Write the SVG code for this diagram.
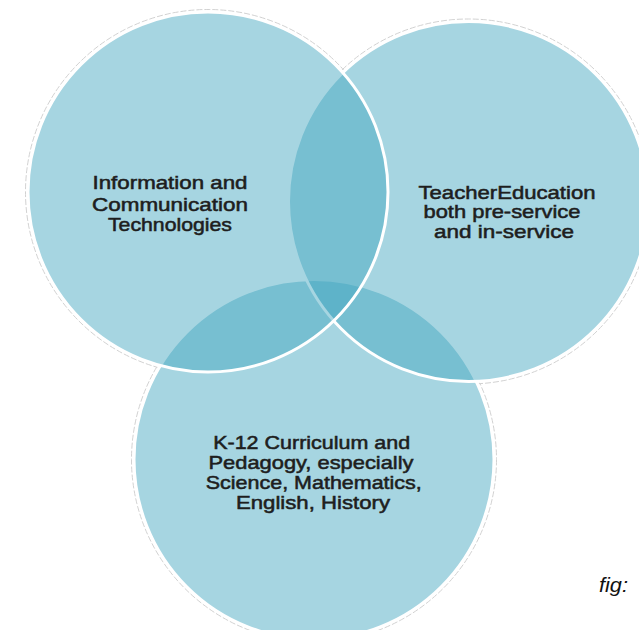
<svg xmlns="http://www.w3.org/2000/svg" width="639" height="630" viewBox="0 0 639 630">
  <style>
    .halo { fill: none; stroke: #d2d2d2; stroke-width: 1; stroke-dasharray: 6 2; }
    .base { fill: #ffffff; }
    .disc { fill: #42a5bf; fill-opacity: 0.47; stroke: #ffffff; stroke-width: 3; }
    .lbl { font-family: "Liberation Sans", Arial, sans-serif; font-size: 19px; font-weight: normal; fill: #1e1e1e; stroke: #1e1e1e; stroke-width: 0.55; text-anchor: middle; }
    .cap { font-family: "Liberation Sans", Arial, sans-serif; font-size: 21px; font-style: italic; fill: #111111; }
  </style>
  <rect width="639" height="630" fill="#ffffff"/>
  <g id="outlines">
    <circle class="halo" cx="314" cy="459.5" r="182.5"/>
    <circle class="halo" cx="468.5" cy="201.5" r="182.5"/>
    <circle class="halo" cx="208" cy="192" r="182.5"/>
    <circle class="base" cx="314" cy="459.5" r="181.5"/>
    <circle class="base" cx="468.5" cy="201.5" r="181.5"/>
    <circle class="base" cx="208" cy="192" r="181.5"/>
  </g>
  <g id="node-k12">
    <circle class="disc" cx="314" cy="459.5" r="180"/>
  </g>
  <g id="node-teacher">
    <circle class="disc" cx="468.5" cy="201.5" r="180"/>
  </g>
  <g id="node-ict">
    <circle class="disc" cx="208" cy="192" r="180"/>
  </g>
  <g id="labels">
    <g id="label-ict">
      <text class="lbl" x="170" y="189.3" textLength="155" lengthAdjust="spacingAndGlyphs">Information and</text>
      <text class="lbl" x="170" y="210.5" textLength="156" lengthAdjust="spacingAndGlyphs">Communication</text>
      <text class="lbl" x="170" y="231" textLength="124" lengthAdjust="spacingAndGlyphs">Technologies</text>
    </g>
    <g id="label-teacher">
      <text class="lbl" x="507" y="198.7" textLength="177" lengthAdjust="spacingAndGlyphs">TeacherEducation</text>
      <text class="lbl" x="502" y="218" textLength="157" lengthAdjust="spacingAndGlyphs">both pre-service</text>
      <text class="lbl" x="504" y="237.5" textLength="140" lengthAdjust="spacingAndGlyphs">and in-service</text>
    </g>
    <g id="label-k12">
      <text class="lbl" x="311.7" y="449" textLength="197" lengthAdjust="spacingAndGlyphs">K-12 Curriculum and</text>
      <text class="lbl" x="311" y="469" textLength="205" lengthAdjust="spacingAndGlyphs">Pedagogy, especially</text>
      <text class="lbl" x="313.8" y="489" textLength="216" lengthAdjust="spacingAndGlyphs">Science, Mathematics,</text>
      <text class="lbl" x="313" y="508.5" textLength="154" lengthAdjust="spacingAndGlyphs">English, History</text>
    </g>
  </g>
  <text class="cap" x="599" y="592" textLength="29" lengthAdjust="spacingAndGlyphs">fig:</text>
</svg>
